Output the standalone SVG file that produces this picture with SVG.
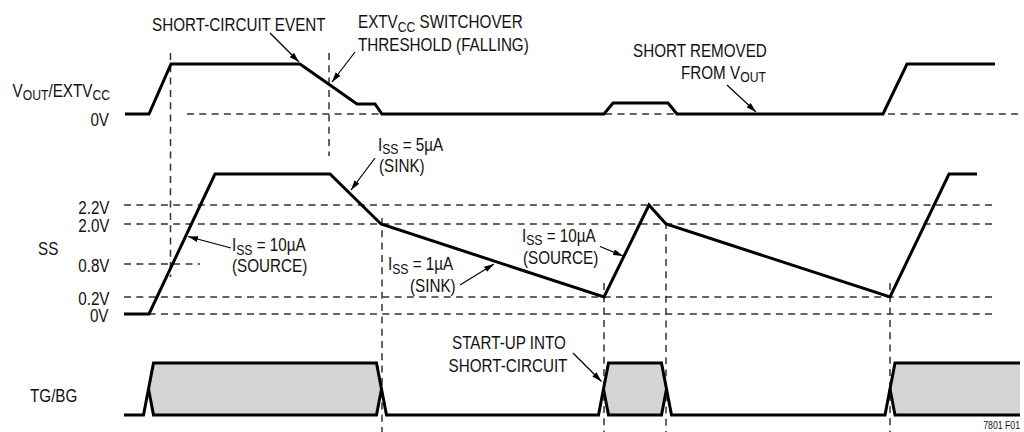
<svg xmlns="http://www.w3.org/2000/svg" width="1024" height="432" viewBox="0 0 1024 432">
<style>
.t{font-family:"Liberation Sans",Arial,sans-serif;font-size:17.5px;fill:#111}
.s{font-size:14px}
.tr{fill:none;stroke:#000;stroke-width:3;stroke-linejoin:miter}
.d{fill:none;stroke:#333;stroke-width:1.5;stroke-dasharray:7 5.3}
.a{fill:none;stroke:#000;stroke-width:1.2}
.fill{fill:#d3d4d6;stroke:none}
</style>
<defs>
<marker id="ah" viewBox="0 0 10 6" refX="10" refY="3" markerWidth="10" markerHeight="6" markerUnits="userSpaceOnUse" orient="auto">
<path d="M0,0 L10,3 L0,6 z" fill="#000"/>
</marker>
</defs>
<rect width="1024" height="432" fill="#fff"/>

<g id="gridlines">
<line class="d" x1="187" y1="114" x2="1022" y2="114"/>
<line class="d" x1="124" y1="205" x2="997" y2="205"/>
<line class="d" x1="124" y1="224" x2="997" y2="224"/>
<line class="d" x1="124" y1="264" x2="200" y2="264"/>
<line class="d" x1="124" y1="297" x2="997" y2="297"/>
<line class="d" x1="124" y1="314" x2="997" y2="314"/>
<line class="d" x1="170.5" y1="53" x2="170.5" y2="277"/>
<line class="d" x1="329" y1="53" x2="329" y2="156"/>
<line class="d" x1="382" y1="218" x2="382" y2="432"/>
<line class="d" x1="604" y1="283" x2="604" y2="432"/>
<line class="d" x1="666" y1="222" x2="666" y2="432"/>
<line class="d" x1="890" y1="283" x2="890" y2="432"/>
</g>

<g id="vout-trace">
<path class="tr" d="M125,114 H149 L171,64 H300 L357,104 H375 L382,114 H604 L613,103 H668 L677,114 H883 L907,64 H995"/>
</g>

<g id="ss-trace">
<path class="tr" d="M124,314 H149 L215,174 H330 L381,224 L604,297 L649,205 L666,224 L890,297 L949,174 H977"/>
</g>

<g id="tgbg-trace">
<path class="fill" d="M148.5,389 L153.5,363 H376.5 L381.5,389 L376.5,415 H153.5 Z"/>
<path class="fill" d="M603.5,389 L608.5,363 H661.5 L666.5,389 L661.5,415 H608.5 Z"/>
<path class="fill" d="M890,389 L895,363 H1020 V415 H895 Z"/>
<path class="tr" d="M124,415 H143.5 L153.5,363 H376.5 L386.5,415 H598.5 L608.5,363 H661.5 L671.5,415 H885 L895,363 H1020"/>
<path class="tr" d="M148.5,389 L153.5,415 H376.5 L381.5,389"/>
<path class="tr" d="M603.5,389 L608.5,415 H661.5 L666.5,389"/>
<path class="tr" d="M890,389 L895,415 H1020"/>
</g>

<g id="connectors">
<line class="a" x1="270" y1="33" x2="299" y2="62" marker-end="url(#ah)"/>
<line class="a" x1="355" y1="52" x2="332" y2="82" marker-end="url(#ah)"/>
<line class="a" x1="727" y1="85" x2="756" y2="112" marker-end="url(#ah)"/>
<line class="a" x1="375" y1="158" x2="351" y2="190" marker-end="url(#ah)"/>
<line class="a" x1="231" y1="248" x2="188" y2="236.5" marker-end="url(#ah)"/>
<line class="a" x1="460" y1="285" x2="494" y2="264" marker-end="url(#ah)"/>
<line class="a" x1="600" y1="246.5" x2="623" y2="256" marker-end="url(#ah)"/>
<line class="a" x1="573" y1="353" x2="601.5" y2="381.5" marker-end="url(#ah)"/>
</g>

<g id="axis-labels">
<text class="t" text-anchor="end" transform="translate(110,96.5) scale(0.87,1)">V<tspan class="s" dy="3.5">OUT</tspan><tspan dy="-3.5">/EXTV</tspan><tspan class="s" dy="3.5">CC</tspan></text>
<text class="t" text-anchor="end" transform="translate(109,125.5) scale(0.87,1)">0V</text>
<text class="t" transform="translate(38,255) scale(0.87,1)">SS</text>
<text class="t" text-anchor="end" transform="translate(109.5,213.5) scale(0.87,1)">2.2V</text>
<text class="t" text-anchor="end" transform="translate(109.5,231.5) scale(0.87,1)">2.0V</text>
<text class="t" text-anchor="end" transform="translate(109.5,271.5) scale(0.87,1)">0.8V</text>
<text class="t" text-anchor="end" transform="translate(109.5,304.5) scale(0.87,1)">0.2V</text>
<text class="t" text-anchor="end" transform="translate(108.5,321.5) scale(0.87,1)">0V</text>
<text class="t" transform="translate(30,401.5) scale(0.87,1)">TG/BG</text>
</g>

<g id="label-short-circuit-event">
<text class="t" transform="translate(152,31) scale(0.87,1)">SHORT-CIRCUIT EVENT</text>
</g>
<g id="label-extvcc">
<text class="t" transform="translate(358,28) scale(0.87,1)">EXTV<tspan class="s" dy="3.5">CC</tspan><tspan dy="-3.5"> SWITCHOVER</tspan></text>
<text class="t" transform="translate(358,50.5) scale(0.87,1)">THRESHOLD (FALLING)</text>
</g>
<g id="label-short-removed">
<text class="t" transform="translate(633,56.5) scale(0.87,1)">SHORT REMOVED</text>
<text class="t" transform="translate(681,78.5) scale(0.87,1)">FROM V<tspan class="s" dy="3.5">OUT</tspan></text>
</g>
<g id="label-iss-5">
<text class="t" transform="translate(378,150.5) scale(0.87,1)">I<tspan class="s" dy="3.5">SS</tspan><tspan dy="-3.5"> = 5µA</tspan></text>
<text class="t" transform="translate(379,172) scale(0.87,1)">(SINK)</text>
</g>
<g id="label-iss-10-left">
<text class="t" transform="translate(232,251) scale(0.87,1)">I<tspan class="s" dy="3.5">SS</tspan><tspan dy="-3.5"> = 10µA</tspan></text>
<text class="t" transform="translate(232,271.5) scale(0.87,1)">(SOURCE)</text>
</g>
<g id="label-iss-1">
<text class="t" transform="translate(388,270) scale(0.87,1)">I<tspan class="s" dy="3.5">SS</tspan><tspan dy="-3.5"> = 1µA</tspan></text>
<text class="t" transform="translate(410,291.5) scale(0.87,1)">(SINK)</text>
</g>
<g id="label-iss-10-right">
<text class="t" transform="translate(522,241.5) scale(0.87,1)">I<tspan class="s" dy="3.5">SS</tspan><tspan dy="-3.5"> = 10µA</tspan></text>
<text class="t" transform="translate(523,263.5) scale(0.87,1)">(SOURCE)</text>
</g>
<g id="label-startup">
<text class="t" transform="translate(452,348.5) scale(0.87,1)">START-UP INTO</text>
<text class="t" transform="translate(448.5,371.5) scale(0.87,1)">SHORT-CIRCUIT</text>
</g>
<g id="figure-id">
<text class="t" style="font-size:10px" text-anchor="end" transform="translate(1020,429) scale(0.87,1)">7801 F01</text>
</g>
</svg>
